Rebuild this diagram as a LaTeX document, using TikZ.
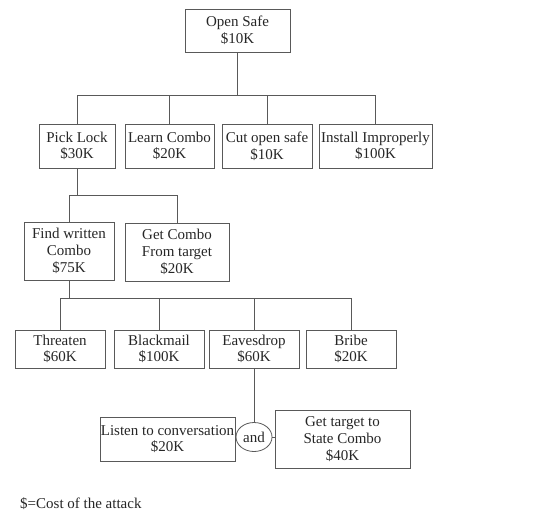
\documentclass[tikz,border=0pt]{standalone}
\usepackage{fontspec}
\setmainfont{Liberation Serif}
\usetikzlibrary{shapes.geometric}
\begin{document}
\begin{tikzpicture}[x=1pt,y=-1pt,
  box/.style={draw=black!65,line width=0.8pt,rectangle,align=center,inner sep=0pt,
    font=\fontsize{15}{16.7}\selectfont,text=black!85},
  conn/.style={draw=black!65,line width=0.8pt}]
\useasboundingbox (0,0) rectangle (534,512);
\node[box,minimum width=105,minimum height=43] (root) at (237.5,30.5) {Open Safe\\\$10K};
\node[box,minimum width=76,minimum height=44] (pick) at (77,146) {Pick Lock\\\$30K};
\node[box,minimum width=89,minimum height=44] (learn) at (169.5,146) {Learn Combo\\\$20K};
\node[box,minimum width=90,minimum height=44] (cut) at (267,146) {Cut open safe\\\$10K};
\node[box,minimum width=113,minimum height=44] (install) at (375.5,146) {Install Improperly\\\$100K};
\node[box,minimum width=90,minimum height=58] (find) at (69,251) {Find written\\Combo\\\$75K};
\node[box,minimum width=104,minimum height=58] (getc) at (177,252) {Get Combo\\From target\\\$20K};
\node[box,minimum width=90,minimum height=38] (threaten) at (60,349) {Threaten\\\$60K};
\node[box,minimum width=90,minimum height=38] (blackmail) at (159,349) {Blackmail\\\$100K};
\node[box,minimum width=90,minimum height=38] (eaves) at (254,349) {Eavesdrop\\\$60K};
\node[box,minimum width=90,minimum height=38] (bribe) at (351,349) {Bribe\\\$20K};
\node[box,ellipse,inner sep=0pt,minimum width=36,minimum height=29] (and) at (254,437) {and};
\node[box,minimum width=135,minimum height=44] (listen) at (167.5,439) {Listen to conversation\\\$20K};
\node[box,minimum width=135,minimum height=58] (gett) at (342.5,439) {Get target to\\State Combo\\\$40K};
\node[anchor=west,font=\fontsize{15}{17}\selectfont,text=black!85,inner sep=0pt] (cap) at (20,504) {\$=Cost of the attack};
\coordinate (b1) at (237.5,95);
\coordinate (b2) at (77,195);
\coordinate (b3) at (69,298);
\draw[conn] (root) -- (b1);
\foreach \n in {pick,learn,cut,install} \draw[conn] (b1) -| (\n);
\draw[conn] (pick) -- (b2);
\foreach \n in {find,getc} \draw[conn] (b2) -| (\n);
\draw[conn] (find) -- (b3);
\foreach \n in {threaten,blackmail,eaves,bribe} \draw[conn] (b3) -| (\n);
\draw[conn] (eaves) -- (and);
\draw[conn] (listen.east) -- (and.west);
\draw[conn] (and.east) -- (gett.west |- and.east);
\end{tikzpicture}
\end{document}
